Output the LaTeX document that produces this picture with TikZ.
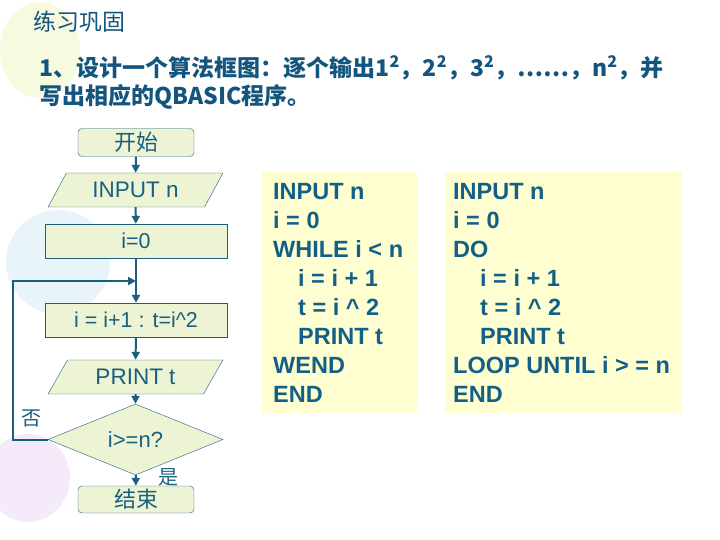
\documentclass[tikz,border=0pt]{standalone}
\usepackage{fontspec}
\setmainfont{Liberation Sans}
\newfontfamily\cjk{Noto Sans CJK SC}
\usetikzlibrary{shapes.geometric, arrows.meta, positioning}
\definecolor{linecolor}{RGB}{27,95,128}
\definecolor{titlecolor}{RGB}{20,85,125}
\definecolor{boxfill}{RGB}{236,244,212}
\definecolor{codefill}{RGB}{254,254,208}
\definecolor{codecolor}{RGB}{18,96,135}
\definecolor{balloongreen}{RGB}{246,250,222}
\definecolor{balloonblue}{RGB}{232,243,250}
\definecolor{balloonpurple}{RGB}{244,234,250}

\begin{document}
\begin{tikzpicture}[x=1pt,y=-1pt]
  \tikzset{
    terminal/.style={
      draw=linecolor,
      rounded corners=4pt,
      minimum width=116pt,
      minimum height=28pt,
      inner sep=0pt,
      fill=boxfill,
      text=linecolor,
      font=\cjk\fontsize{22}{22}\selectfont
    },
    process/.style={
      draw=linecolor,
      minimum width=182pt,
      minimum height=34pt,
      inner sep=0pt,
      fill=boxfill,
      text=linecolor,
      font=\fontsize{21.5}{22}\selectfont
    },
    io/.style={
      draw=linecolor,
      trapezium,
      trapezium left angle=54,
      trapezium right angle=126,
      trapezium stretches=true,
      minimum width=175pt,
      minimum height=34pt,
      inner sep=0pt,
      fill=boxfill,
      text=linecolor,
      font=\fontsize{22.5}{22}\selectfont
    },
    decision/.style={
      draw=linecolor,
      diamond,
      minimum width=175pt,
      minimum height=55pt,
      inner sep=0pt,
      fill=boxfill,
      text=linecolor,
      font=\fontsize{22}{22}\selectfont
    },
    codebox/.style={
      fill=codefill,
      minimum height=241pt,
      inner sep=0pt
    },
    codetext/.style={
      anchor=north west,
      inner sep=0pt,
      align=left,
      text=codecolor,
      font=\bfseries\fontsize{23.5}{29}\selectfont
    },
    flow/.style={
      draw=linecolor,
      line width=2pt,
      -{Triangle[length=8pt,width=8pt]}
    },
    answer/.style={
      text=linecolor,
      font=\cjk\fontsize{20}{20}\selectfont
    },
    task/.style={
      anchor=west,
      text=titlecolor,
      font=\cjk\bfseries\fontsize{23}{23}\selectfont
    }
  }

  \useasboundingbox (0,0) rectangle (720,540);

  % faint balloons in the background
  \fill[balloongreen] (40,50) ellipse (40 and 48);
  \fill[balloonblue] (58,262) circle (52);
  \fill[balloonpurple] (28,478) ellipse (42 and 44);

  % Title and exercise text
  \node[anchor=west, text=titlecolor, font=\cjk\fontsize{23}{23}\selectfont]
    at (30,22) (heading) {练习巩固};
  \node[task] at (36,68) (task1)
    {1、设计一个算法框图：逐个输出1\textsuperscript{2}，2\textsuperscript{2}，3\textsuperscript{2}，……，n\textsuperscript{2}，并};
  \node[task] at (36,97) (task2) {写出相应的QBASIC程序。};

  % Draw the flowchart
  \node[terminal] at (136,142.5) (start) {开始};
  \node[io] at (135.5,190) (input) {INPUT n};
  \node[process] at (136,241) (init) {i=0};
  \node[process] at (136,320) (update) {i = i+1 : t=i\^{}2};
  \node[io] at (135.5,377) (print) {PRINT t};
  \node[decision] at (135.5,439.5) (cond) {i>=n?};
  \node[terminal, minimum height=27pt] at (136,499.5) (stop) {结束};
  \coordinate (loopin) at (136,281);

  \node[answer] at (31,418) (nolabel) {否};
  \node[answer] at (168,477) (yeslabel) {是};

  \draw[flow] (start) -- (input);
  \draw[flow] (input) -- (init);
  \draw[flow] (init) -- (update);
  \draw[flow] (update) -- (print);
  \draw[flow] (print) -- (cond);
  \draw[flow] (cond) -- (stop);
  \draw[flow] (cond.west) -- ++(-35,0) |- (loopin);

  % QBASIC programs
  \node[codebox, minimum width=155pt] at (339.5,292.5) (whilebox) {};
  \node[codetext] at (273,183) (whileprog) {INPUT n\\
      i = 0\\
      WHILE i < n\\
      \hspace*{25pt}i = i + 1\\
      \hspace*{25pt}t = i \^{} 2\\
      \hspace*{25pt}PRINT t\\
      WEND\\
      END};
  \node[codebox, minimum width=237pt] at (563.5,292.5) (loopbox) {};
  \node[codetext] at (453,183) (loopprog) {INPUT n\\
      i = 0\\
      DO\\
      \hspace*{27pt}i = i + 1\\
      \hspace*{27pt}t = i \^{} 2\\
      \hspace*{27pt}PRINT t\\
      LOOP UNTIL i > = n\\
      END};
\end{tikzpicture}
\end{document}
